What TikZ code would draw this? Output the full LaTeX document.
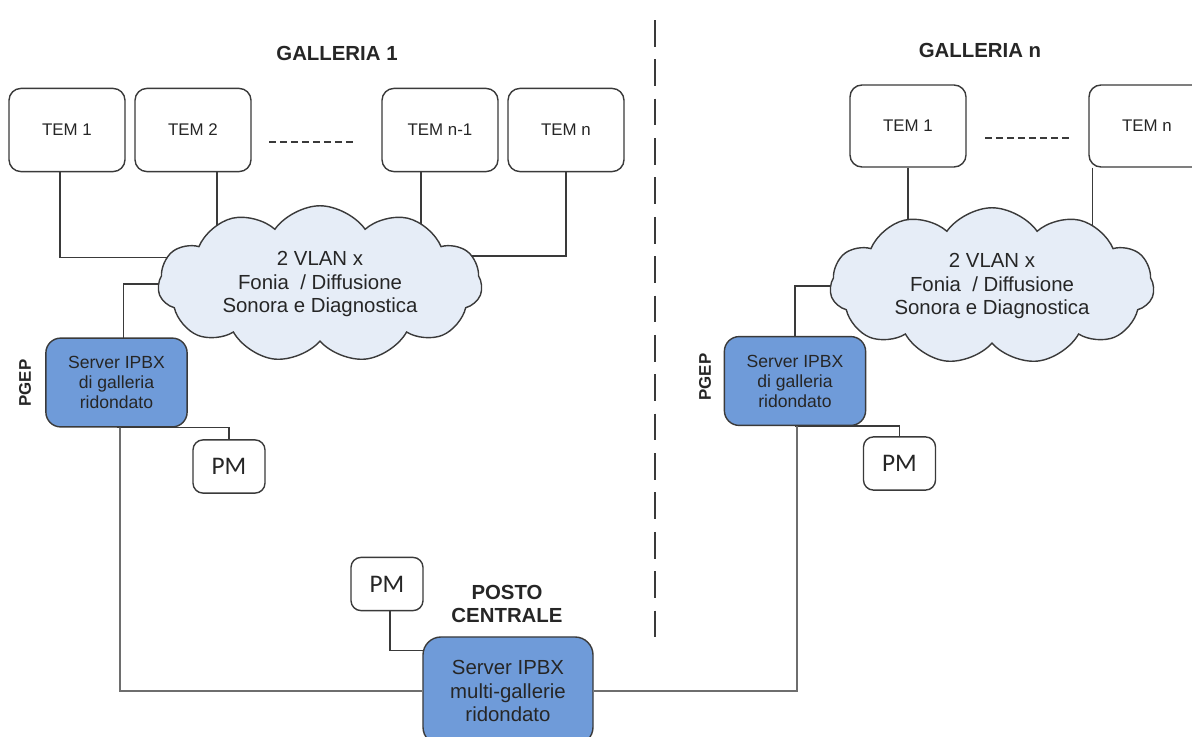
\documentclass[tikz,border=0pt]{standalone}
\usepackage{fontspec}
\setmainfont{Liberation Sans}
\newfontfamily\pmfont{Carlito}
\usepackage{xcolor}
\usetikzlibrary{shapes.symbols,backgrounds}
\definecolor{srvblue}{HTML}{6F9BD9}
\definecolor{cloudfill}{HTML}{E6EDF7}
\definecolor{edgegray}{HTML}{3A3A3A}
\definecolor{wiregray}{HTML}{6E6E6E}
\tikzset{
  tembox/.style={
    draw=edgegray,
    fill=white,
    line width=1pt,
    rounded corners=0.3cm,
    minimum width=2.9cm,
    minimum height=2.08cm,
    font=\fontsize{12}{14}\selectfont
  },
  srvbox/.style={
    draw=edgegray,
    fill=srvblue,
    line width=1pt,
    rounded corners=0.37cm,
    minimum width=3.53cm,
    minimum height=2.22cm,
    align=center,
    font=\fontsize{12.5}{14.2}\selectfont
  },
  mainsrv/.style={
    srvbox,
    rounded corners=0.45cm,
    minimum width=4.25cm,
    minimum height=2.7cm,
    font=\fontsize{14.5}{17}\selectfont
  },
  pmbox/.style={
    draw=edgegray,
    fill=white,
    line width=1pt,
    rounded corners=0.25cm,
    minimum width=1.8cm,
    minimum height=1.33cm,
    font=\pmfont\fontsize{18}{20}\selectfont
  },
  vlan/.style={
    cloud,
    cloud puffs=11,
    cloud puff arc=110,
    aspect=2.28,
    draw=edgegray,
    fill=cloudfill,
    line width=1pt,
    minimum width=8.1cm,
    minimum height=3.55cm,
    inner sep=0pt,
    align=center,
    font=\fontsize{14.5}{17}\selectfont
  },
  title/.style={
    align=center,
    font=\bfseries\fontsize{14.5}{16}\selectfont
  },
  pgep/.style={
    rotate=90,
    font=\bfseries\fontsize{12}{14}\selectfont
  },
  wire/.style={
    draw=edgegray,
    line width=1pt
  },
  trunk/.style={
    draw=wiregray,
    line width=1.5pt
  },
  gap/.style={
    draw=edgegray,
    line width=1.2pt,
    dash pattern=on 5pt off 2.8pt
  }
}

\begin{document}
\begin{tikzpicture}[x=0.025cm,y=-0.025cm,text=black!85]
        \useasboundingbox (0,0) rectangle (1192,737);
        \node[title] (gal1) at (337,53) {GALLERIA 1};
        \node[title] (galn) at (980,50) {GALLERIA n};
        \node[title] (posto) at (507,604) {POSTO\\CENTRALE};
        \draw[edgegray, line width=1.4pt, dash pattern=on 19pt off 9pt] (655,20)--(655,640);
        % galleria 1
        \node[tembox] (tem11) at (67,130) {TEM 1};
        \node[tembox] (tem12) at (193,130) {TEM 2};
        \node[tembox] (tem1m) at (440,130) {TEM n-1};
        \node[tembox] (tem1n) at (566,130) {TEM n};
        \draw[gap] (269,142)--(354,142);
        \node[vlan] (vlan1) at (320,284) {2 VLAN x\\Fonia~~/ Diffusione\\Sonora e Diagnostica};
        \node[srvbox] (srv1) at (116.5,382.5) {Server IPBX\\di galleria\\ridondato};
        \node[pgep] (pgep1) at (25,383) {PGEP};
        \node[pmbox] (pm1) at (229,466.5) {PM};
        % galleria n
        \node[tembox, minimum height=2.05cm] (temn1) at (908,126) {TEM 1};
        \node[tembox, minimum height=2.05cm] (temnn) at (1147,126) {TEM n};
        \draw[gap] (985,138)--(1070,138);
        \node[vlan] (vlann) at (992,286) {2 VLAN x\\Fonia~~/ Diffusione\\Sonora e Diagnostica};
        \node[srvbox] (srvn) at (795,381) {Server IPBX\\di galleria\\ridondato};
        \node[pgep] (pgepn) at (705,377) {PGEP};
        \node[pmbox] (pmn) at (899.5,463.5) {PM};
        % posto centrale
        \node[pmbox] (pmc) at (387,584) {PM};
        \node[mainsrv] (srvc) at (508,691) {Server IPBX\\multi-gallerie\\ridondato};
        \coordinate (temnw) at ([xshift=3pt]temnn.south west);
        \begin{scope}[on background layer]
          \draw[wire] ([xshift=-5pt]tem11.south) |- ([yshift=19pt]vlan1.center);
          \draw[wire] ([xshift=17pt]tem12.south) |- (vlan1);
          \draw[wire] ([xshift=-13.5pt]tem1m.south) |- (vlan1);
          \draw[wire] (tem1n) |- ([yshift=20pt]vlan1.center);
          \draw[wire] (vlan1) -| ([xshift=5pt]srv1.center);
          \draw[wire] (srv1.south) -| (pm1);
          \draw[wire] (temn1) |- (vlann);
          \draw[wire] (temnw) |- (vlann);
          \draw[wire] (vlann) -| (srvn);
          \draw[wire] (srvn.south) -| (pmn);
          \draw[wire] ([xshift=2pt]pmc.center) |- ([yshift=29pt]srvc.center);
          \draw[trunk] ([xshift=2.5pt]srv1.center) |- (srvc);
          \draw[trunk] (srvc) -| ([xshift=1.5pt]srvn.center);
        \end{scope}
\end{tikzpicture}
\end{document}
